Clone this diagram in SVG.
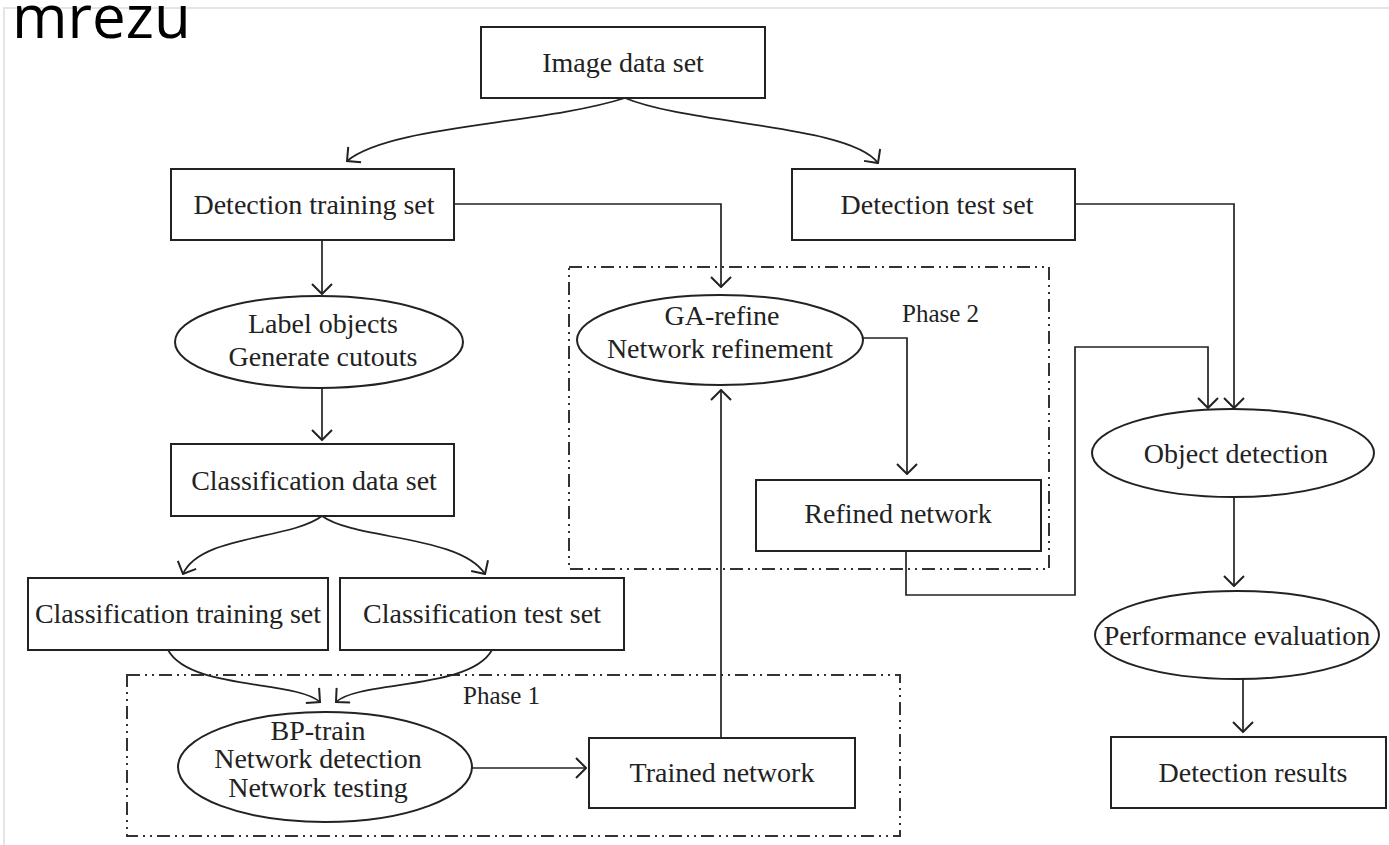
<svg xmlns="http://www.w3.org/2000/svg" width="1389" height="845" viewBox="0 0 1389 845">
<defs>
<marker id="arr" viewBox="0 0 12 22" refX="11" refY="11" markerWidth="12" markerHeight="22" markerUnits="userSpaceOnUse" orient="auto">
<path d="M1,1 L11,11 L1,21" fill="none" stroke="#222" stroke-width="2"/>
</marker>
<style>
.box{fill:#fff;stroke:#222;stroke-width:2}
.ell{fill:#fff;stroke:#222;stroke-width:2}
.t{font-family:"Liberation Serif",serif;font-size:28px;fill:#222;text-anchor:middle}
.ph{font-family:"Liberation Serif",serif;font-size:25px;fill:#222}
.c{fill:none;stroke:#222;stroke-width:1.6}
.ca{fill:none;stroke:#222;stroke-width:1.7;marker-end:url(#arr)}
.grp{fill:none;stroke:#333;stroke-width:2;stroke-dasharray:13 5 2 5 2 5}
</style>
</defs>
<rect width="1389" height="845" fill="#fff"/>
<path d="M4,845 V8 H1389" fill="none" stroke="#ddd" stroke-width="1.5"/>
<text x="12" y="38" style="font-family:'Open Sans',sans-serif;font-size:60px;fill:#000">mrezu</text>

<g id="phase2"><rect class="grp" x="569" y="267" width="480" height="302"/><text class="ph" x="902" y="322">Phase 2</text></g>
<g id="phase1"><rect class="grp" x="127" y="675" width="773" height="161"/><text class="ph" x="463" y="704">Phase 1</text></g>

<g id="connectors">
<path class="ca" d="M625,98 C540,125 390,125 347,161"/>
<path class="ca" d="M625,98 C690,125 850,125 878,163"/>
<path class="ca" d="M322,240 V294"/>
<path class="ca" d="M322,388 V440"/>
<path class="ca" d="M322,516 C290,540 200,535 183,574"/>
<path class="ca" d="M322,516 C355,540 460,535 485,574"/>
<path class="ca" d="M168,650 C190,690 295,680 320,702"/>
<path class="ca" d="M492,650 C470,690 360,680 336,702"/>
<path class="ca" d="M472,768 H586"/>
<path class="ca" d="M721,738 V390"/>
<path class="ca" d="M454,204 H721 V287"/>
<path class="ca" d="M863,338 H907 V474"/>
<path class="ca" d="M906,551 V595 H1075 V347 H1208 V408"/>
<path class="ca" d="M1075,204 H1234 V408"/>
<path class="ca" d="M1234,497 V586"/>
<path class="ca" d="M1243,679 V732"/>
</g>

<g id="image-data-set"><rect class="box" x="481" y="27" width="284" height="71"/><text class="t" x="623" y="72">Image data set</text></g>
<g id="detection-training-set"><rect class="box" x="171" y="169" width="283" height="71"/><text class="t" x="314" y="214">Detection training set</text></g>
<g id="detection-test-set"><rect class="box" x="792" y="169" width="283" height="71"/><text class="t" x="937" y="214">Detection test set</text></g>
<g id="label-objects"><ellipse class="ell" cx="319" cy="342" rx="144" ry="46"/><text class="t" x="323" y="333">Label objects</text><text class="t" x="323" y="366">Generate cutouts</text></g>
<g id="classification-data-set"><rect class="box" x="171" y="444" width="283" height="72"/><text class="t" x="314" y="490">Classification data set</text></g>
<g id="classification-training-set"><rect class="box" x="28" y="578" width="300" height="72"/><text class="t" x="178" y="623">Classification training set</text></g>
<g id="classification-test-set"><rect class="box" x="340" y="578" width="284" height="72"/><text class="t" x="482" y="623">Classification test set</text></g>
<g id="bp-train"><ellipse class="ell" cx="325" cy="767" rx="147" ry="55"/><text class="t" x="318" y="740">BP-train</text><text class="t" x="318" y="768">Network detection</text><text class="t" x="318" y="797">Network testing</text></g>
<g id="trained-network"><rect class="box" x="589" y="738" width="266" height="70"/><text class="t" x="722" y="782">Trained network</text></g>
<g id="ga-refine"><ellipse class="ell" cx="720" cy="340" rx="143" ry="45"/><text class="t" x="722" y="325">GA-refine</text><text class="t" x="720" y="358">Network refinement</text></g>
<g id="refined-network"><rect class="box" x="756" y="480" width="285" height="71"/><text class="t" x="898" y="523">Refined network</text></g>
<g id="object-detection"><ellipse class="ell" cx="1233" cy="453" rx="141" ry="44"/><text class="t" x="1236" y="463">Object detection</text></g>
<g id="performance-evaluation"><ellipse class="ell" cx="1237" cy="635" rx="142" ry="44"/><text class="t" x="1237" y="645">Performance evaluation</text></g>
<g id="detection-results"><rect class="box" x="1111" y="737" width="275" height="71"/><text class="t" x="1253" y="782">Detection results</text></g>
</svg>
